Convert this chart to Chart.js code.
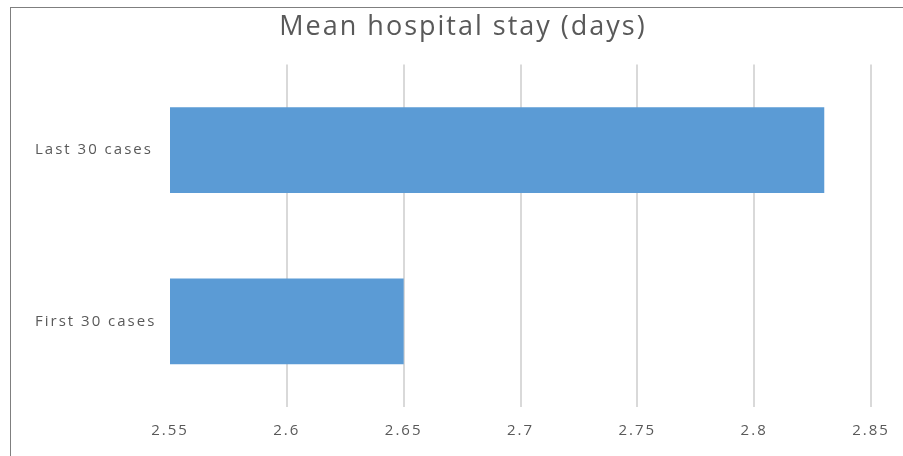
<!DOCTYPE html>
<html>
<head>
<meta charset="utf-8">
<script src="https://cdn.jsdelivr.net/npm/chart.js@4"></script>
<style>
  body { margin: 0; background: #fff; }
  #wrap { position: relative; width: 903px; height: 456px; overflow: hidden; }
  #frame { position: absolute; left: 10px; top: 7px; width: 1000px; height: 600px;
           border-left: 1px solid #7f7f7f; border-top: 1px solid #7f7f7f; pointer-events: none; }
</style>
</head>
<body>
<div id="wrap">
  <canvas id="myChart" width="903" height="456"></canvas>
  <div id="frame"></div>
</div>
<script>
const categories = ['Last 30 cases', 'First 30 cases'];
const stayDays = [2.83, 2.65];
const axisMin = 2.55;
const axisMax = 2.85;
const axisStep = 0.05;

// the reference text is drawn wide, so space the letters out a bit,
// and the title sits a little right of the middle
const tweakPlugin = {
    id: 'tweak',
    beforeUpdate: (chart) => { chart.ctx.letterSpacing = '2px'; },
    afterLayout: (chart) => {
        if (chart.titleBlock) chart.titleBlock.left += 20;
    },
    beforeDraw: (chart) => { chart.ctx.letterSpacing = '2px'; }
};

const ctx = document.getElementById('myChart').getContext('2d');

const stayChart = new Chart(ctx, {
    type: 'bar',
    data: {
        labels: categories,
        datasets: [
            {
                data: stayDays,
                backgroundColor: '#5B9BD5',
                borderWidth: 0,
                barPercentage: 0.5,
                categoryPercentage: 1.0
            }
        ]
    },
    options: {
        indexAxis: 'y',
        responsive: false,
        animation: false,
        layout: { padding: { left: 35, right: 32, top: 8, bottom: 0 } },
        scales: {
            x: {
                min: axisMin,
                max: axisMax,
                ticks: {
                    stepSize: axisStep,
                    padding: 15,
                    color: '#595959',
                    font: { family: 'Open Sans', size: 15 },
                    callback: (v) => String(Math.round(v * 100) / 100)
                },
                grid: {
                    drawTicks: false,
                    lineWidth: 2,
                    color: (c) => c.index === 0 ? 'rgba(0,0,0,0)' : '#d9d9d9'
                },
                border: { display: false },
                afterFit: (scale) => {
                    scale.height = 49;
                    scale.paddingLeft = 0;
                    scale.paddingRight = 0;
                }
            },
            y: {
                ticks: {
                    crossAlign: 'far',
                    color: '#595959',
                    font: { family: 'Open Sans', size: 15 }
                },
                grid: { display: false, drawTicks: false },
                border: { display: false },
                afterFit: (scale) => { scale.width = 135; }
            }
        },
        plugins: {
            legend: { display: false },
            tooltip: { enabled: false },
            title: {
                display: true,
                text: 'Mean hospital stay (days)',
                color: '#595959',
                font: { family: 'Open Sans', size: 27, weight: 'normal' },
                padding: { top: 3, bottom: 21 }
            }
        }
    },
    plugins: [tweakPlugin]
});
</script>
</body>
</html>
